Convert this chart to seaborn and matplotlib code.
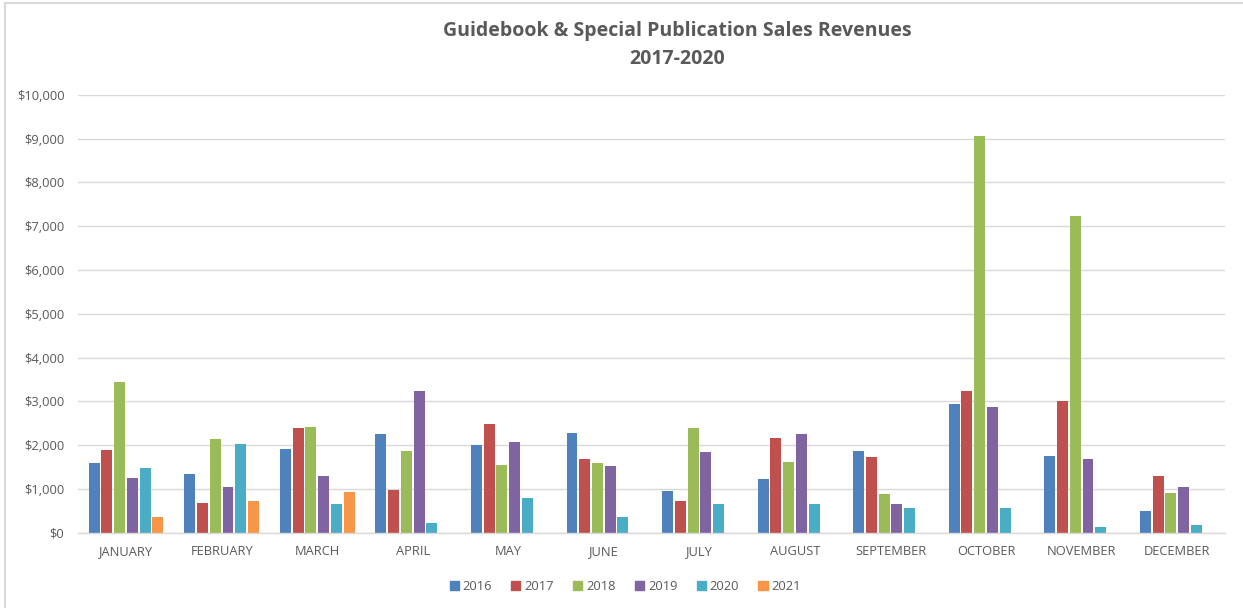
import matplotlib
matplotlib.use("Agg")
import matplotlib.pyplot as plt
import matplotlib.patches as mpatches
from matplotlib.ticker import FuncFormatter
import seaborn as sns
import pandas as pd

months = ["JANUARY", "FEBRUARY", "MARCH", "APRIL", "MAY", "JUNE", "JULY",
          "AUGUST", "SEPTEMBER", "OCTOBER", "NOVEMBER", "DECEMBER"]
years = ["2016", "2017", "2018", "2019", "2020", "2021"]

rev_2016 = [1580, 1350, 1910, 2250, 2010, 2275, 945, 1225, 1870, 2945, 1750, 495]
rev_2017 = [1890, 685, 2395, 980, 2470, 1675, 715, 2150, 1720, 3245, 3000, 1295]
rev_2018 = [3450, 2145, 2420, 1870, 1550, 1600, 2380, 1620, 890, 9050, 7230, 895]
rev_2019 = [1250, 1050, 1285, 3225, 2075, 1515, 1840, 2250, 645, 2865, 1675, 1040]
rev_2020 = [1475, 2020, 655, 230, 785, 355, 645, 645, 555, 555, 135, 165]
rev_2021 = [350, 720, 935, None, None, None, None, None, None, None, None, None]

colors = ["#4F81BD", "#C0504D", "#9BBB59", "#8064A2", "#4BACC6", "#F79646"]

series = [rev_2016, rev_2017, rev_2018, rev_2019, rev_2020, rev_2021]
rows = []
for y, vals in zip(years, series):
    for m, v in zip(months, vals):
        rows.append({"Month": m, "Year": y, "Revenue": v})
df = pd.DataFrame(rows)

sns.set_theme(style="white")
plt.rcParams["font.family"] = ["Open Sans", "DejaVu Sans"]

fig = plt.figure(figsize=(12.43, 6.08), dpi=100)
ax = fig.add_axes([0.063, 0.124, 0.9225, 0.72])

sns.barplot(data=df, x="Month", y="Revenue", hue="Year", order=months,
            hue_order=years, palette=colors, width=0.8, gap=0.14,
            saturation=1, errorbar=None, ax=ax, legend=False, linewidth=0)

ax.set_ylim(0, 10000)
ax.set_xlim(-0.5, 11.5)
ax.set_yticks(range(0, 10001, 1000))
ax.yaxis.set_major_formatter(FuncFormatter(lambda v, p: f"${int(v):,}"))
ax.grid(axis="y", color="#D9D9D9", linewidth=1)
ax.set_axisbelow(True)
for s in ["top", "right", "left"]:
    ax.spines[s].set_visible(False)
ax.spines["bottom"].set_color("#D9D9D9")
ax.spines["bottom"].set_linewidth(1)
ax.tick_params(axis="both", length=0, colors="#595959", labelsize=9.3)
ax.tick_params(axis="x", pad=9)
ax.tick_params(axis="y", pad=10)
ax.set_xlabel("")
ax.set_ylabel("")

fig.text(0.545, 0.949, "Guidebook & Special Publication Sales Revenues",
         ha="center", va="center", fontsize=14, fontweight="bold", color="#595959")
fig.text(0.545, 0.903, "2017-2020",
         ha="center", va="center", fontsize=14, fontweight="bold", color="#595959")

handles = [mpatches.Patch(color=c, label=y) for c, y in zip(colors, years)]
fig.legend(handles=handles, loc="center", bbox_to_anchor=(0.503, 0.036), ncol=6,
           frameon=False, fontsize=9.3, handlelength=0.7, handleheight=0.7,
           handletextpad=0.3, columnspacing=1.5, labelcolor="#595959")

border = mpatches.Rectangle((0.004, -0.01), 1.1, 1.005, transform=fig.transFigure,
                            fill=False, edgecolor="#D9D9D9", linewidth=1.5)
fig.patches.append(border)

fig.savefig("out.png", dpi=100)
